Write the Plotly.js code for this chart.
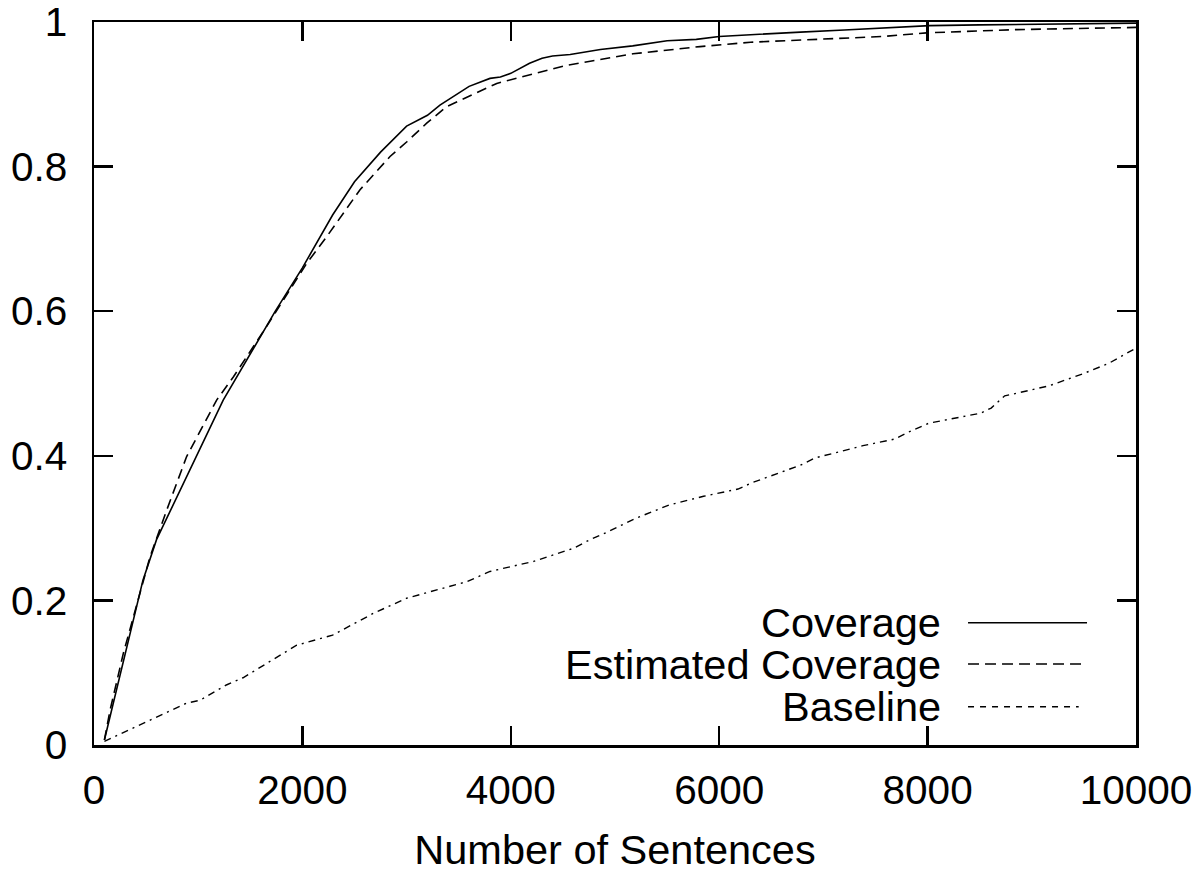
<!DOCTYPE html>
<html>
<head>
<meta charset="utf-8">
<script src="https://cdn.plot.ly/plotly-3.0.1.min.js"></script>
<style>html,body{margin:0;padding:0;background:#fff;}#chart{width:1200px;height:873px;}</style>
</head>
<body>
<div id="chart"></div>
<script>
// ---- data ----
const seriesNames = ["Coverage", "Estimated Coverage", "Baseline"];

const coverageX = [100, 300, 470, 600, 890, 1240, 1740, 2000, 2290, 2500, 2750, 3000, 3200, 3320, 3600, 3800, 3900, 4000, 4180, 4300, 4400, 4570, 4860, 5170, 5500, 5780, 6000, 6450, 6780, 7200, 7640, 8020, 8500, 9000, 10000];
const coverageY = [0.007, 0.127, 0.228, 0.284, 0.371, 0.477, 0.600, 0.660, 0.733, 0.779, 0.820, 0.856, 0.871, 0.885, 0.911, 0.922, 0.924, 0.929, 0.943, 0.950, 0.953, 0.955, 0.962, 0.967, 0.974, 0.976, 0.980, 0.984, 0.986, 0.989, 0.992, 0.995, 0.996, 0.997, 0.9985];

const estimatedX = [100, 154, 282, 537, 698, 889, 1177, 1337, 1657, 2041, 2233, 2553, 2841, 3000, 3193, 3385, 3865, 4312, 4536, 5173, 5816, 6300, 6775, 7575, 7990, 8855, 10000];
const estimatedY = [0.007, 0.048, 0.127, 0.260, 0.325, 0.399, 0.477, 0.509, 0.579, 0.666, 0.703, 0.768, 0.814, 0.834, 0.860, 0.883, 0.915, 0.931, 0.940, 0.956, 0.966, 0.972, 0.975, 0.980, 0.985, 0.9895, 0.9925];

const baselineX = [100, 470, 890, 1020, 1270, 1430, 1945, 2290, 2680, 3000, 3450, 3580, 3800, 4220, 4600, 4760, 4890, 5190, 5520, 5850, 6180, 6320, 6780, 6920, 7380, 7680, 7850, 8010, 8510, 8610, 8740, 8840, 9170, 9500, 9740, 10000];
const baselineY = [0.005, 0.030, 0.058, 0.062, 0.083, 0.093, 0.138, 0.152, 0.182, 0.203, 0.221, 0.226, 0.240, 0.254, 0.272, 0.284, 0.292, 0.313, 0.332, 0.344, 0.354, 0.363, 0.387, 0.397, 0.414, 0.423, 0.435, 0.445, 0.459, 0.466, 0.483, 0.486, 0.497, 0.514, 0.528, 0.549];

const xTickVals = [0, 2000, 4000, 6000, 8000, 10000];
const xTickText = ["0", "2000", "4000", "6000", "8000", "10000"];
const yTickVals = [0, 0.2, 0.4, 0.6, 0.8, 1];
const yTickText = ["0", "0.2", "0.4", "0.6", "0.8", "1"];
const xTitle = "Number of Sentences";

// ---- styling ----
const FONT = "Liberation Sans, Arial, Helvetica, sans-serif";
const FS_TICK = 40.5;
const FS_TEXT = 41.5;
const dashes = ["solid", "10px,6px", "7px,5px,2px,5px"];
const legendDashes = ["solid", "11px,6px", "6px,6px"];

const traces = [
  {x: coverageX, y: coverageY, name: seriesNames[0], mode: "lines", line: {color: "#000", width: 1.6, dash: dashes[0]}},
  {x: estimatedX, y: estimatedY, name: seriesNames[1], mode: "lines", line: {color: "#000", width: 1.6, dash: dashes[1]}},
  {x: baselineX, y: baselineY, name: seriesNames[2], mode: "lines", line: {color: "#000", width: 1.4, dash: dashes[2]}}
];

// custom legend (text right-aligned, sample line on the right), in paper coords
const legendRowsY = [0.169, 0.112, 0.053];
const annotations = [];
const shapes = [];
seriesNames.forEach((n, i) => {
  annotations.push({xref: "paper", yref: "paper", x: 0.8138, y: legendRowsY[i], text: n,
    showarrow: false, xanchor: "right", yanchor: "middle", height: 41, valign: "bottom",
    yshift: -3, borderpad: 0, font: {family: FONT, size: FS_TEXT, color: "#000"}});
  shapes.push({type: "line", xref: "paper", yref: "paper", x0: 0.8388, x1: i === 2 ? 0.945 : 0.953,
    y0: legendRowsY[i], y1: legendRowsY[i], line: {color: "#000", width: 1.6, dash: legendDashes[i]}});
});

const axisCommon = {
  showgrid: false, zeroline: false, showline: true, linecolor: "#000", linewidth: 2.5,
  mirror: "ticks", ticks: "inside", ticklen: 19, tickwidth: 2.5, tickcolor: "#000",
  ticklabeloverflow: "allow",
  tickfont: {family: FONT, size: FS_TICK, color: "#000"}
};

const layout = {
  width: 1200, height: 873,
  margin: {l: 94, r: 64, t: 22, b: 128, pad: 0},
  paper_bgcolor: "#fff", plot_bgcolor: "#fff",
  showlegend: false,
  font: {family: FONT, size: FS_TEXT, color: "#000"},
  xaxis: Object.assign({}, axisCommon, {
    range: [0, 10000], tickmode: "array", tickvals: xTickVals, ticktext: xTickText,
    ticklabelstandoff: 8,
    title: {text: xTitle, font: {family: FONT, size: FS_TEXT, color: "#000"}, standoff: 25}
  }),
  yaxis: Object.assign({}, axisCommon, {
    range: [0, 1], tickmode: "array", tickvals: yTickVals, ticktext: yTickText,
    ticklabelstandoff: 16
  }),
  annotations: annotations,
  shapes: shapes
};

Plotly.newPlot("chart", traces, layout, {staticPlot: true, displayModeBar: false});
</script>
</body>
</html>
